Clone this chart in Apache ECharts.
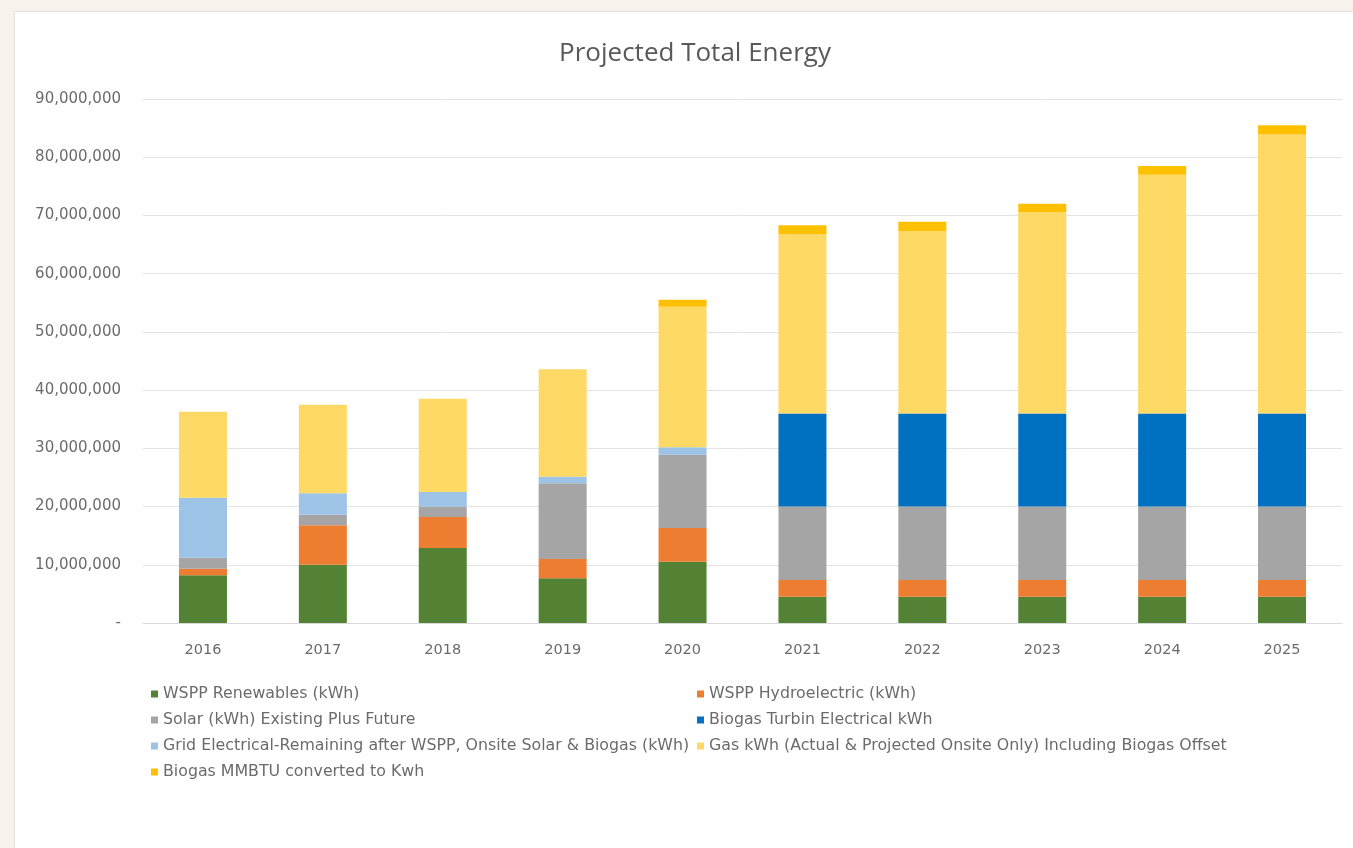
<!DOCTYPE html>
<html>
<head>
<meta charset="utf-8">
<script src="https://cdn.jsdelivr.net/npm/echarts@6/dist/echarts.min.js"></script>
<style>
  html, body { margin: 0; padding: 0; background: #f7f3ec; }
  #card { position: absolute; left: 14px; top: 11px; width: 1345px; height: 850px; background: #ffffff; border: 1px solid #e4e0da; }
  #chart { position: absolute; left: 0; top: 0; width: 1353px; height: 848px; }
</style>
</head>
<body>
<div id="card"></div>
<div id="chart"></div>
<script>
const categories = ['2016', '2017', '2018', '2019', '2020', '2021', '2022', '2023', '2024', '2025'];
const wsppRenewables = [8200000, 10000000, 12900000, 7700000, 10500000, 4500000, 4500000, 4500000, 4500000, 4500000];
const wsppHydro = [1100000, 6800000, 5300000, 3300000, 5800000, 2900000, 2900000, 2900000, 2900000, 2900000];
const solar = [1900000, 1800000, 1800000, 13000000, 12600000, 12600000, 12600000, 12600000, 12600000, 12600000];
const biogasTurbine = [0, 0, 0, 0, 0, 16000000, 16000000, 16000000, 16000000, 16000000];
const gridRemaining = [10300000, 3700000, 2500000, 1100000, 1300000, 0, 0, 0, 0, 0];
const gasKwh = [14800000, 15200000, 16000000, 18500000, 24100000, 30800000, 31300000, 34600000, 41000000, 47900000];
const biogasMmbtu = [0, 0, 0, 0, 1200000, 1500000, 1600000, 1400000, 1500000, 1600000];
const seriesNames = [
  'WSPP Renewables (kWh)',
  'WSPP Hydroelectric (kWh)',
  'Solar (kWh) Existing Plus Future',
  'Biogas Turbin Electrical kWh',
  'Grid Electrical-Remaining after WSPP, Onsite Solar & Biogas (kWh)',
  'Gas kWh (Actual & Projected Onsite Only) Including Biogas Offset',
  'Biogas MMBTU converted to Kwh'
];
const seriesValues = [wsppRenewables, wsppHydro, solar, biogasTurbine, gridRemaining, gasKwh, biogasMmbtu];
const colors = ['#548235', '#ed7d31', '#a5a5a5', '#0070c0', '#9dc3e6', '#ffd966', '#ffc000'];

const font = '"DejaVu Sans", "Open Sans", sans-serif';
const chart = echarts.init(document.getElementById('chart'));
const legendCommon = {
  orient: 'vertical',
  icon: 'rect',
  itemWidth: 7,
  itemHeight: 7,
  itemGap: 10,
  textStyle: { color: '#6b6b6b', fontSize: 15.8, fontFamily: font, lineHeight: 15 },
  selectedMode: false
};
chart.setOption({
  backgroundColor: 'transparent',
  animation: false,
  color: colors,
  title: {
    text: 'Projected Total Energy',
    left: 690,
    textAlign: 'center',
    top: 36,
    textStyle: { color: '#595959', fontSize: 26, fontWeight: 'normal', fontFamily: '"Open Sans", sans-serif' }
  },
  legend: [
    Object.assign({}, legendCommon, {
      left: 146, top: 681,
      data: [seriesNames[0], seriesNames[2], seriesNames[4], seriesNames[6]]
    }),
    Object.assign({}, legendCommon, {
      left: 692, top: 681,
      data: [seriesNames[1], seriesNames[3], seriesNames[5]]
    })
  ],
  grid: { left: 143, right: 11, top: 99, bottom: 225, containLabel: false },
  xAxis: {
    type: 'category',
    data: categories,
    axisLine: { lineStyle: { color: '#d9d9d9' } },
    axisTick: { show: false },
    axisLabel: { color: '#6b6b6b', fontSize: 14.5, fontFamily: font, margin: 20 }
  },
  yAxis: {
    type: 'value',
    min: 0,
    max: 90000000,
    interval: 10000000,
    axisLine: { show: false },
    axisTick: { show: false },
    splitLine: { lineStyle: { color: '#e3e3e3' } },
    axisLabel: {
      color: '#6b6b6b', fontSize: 15, fontFamily: font, margin: 22,
      formatter: v => v === 0 ? '-' : v.toLocaleString('en-US')
    }
  },
  series: seriesNames.map((name, i) => ({
    name: name,
    type: 'bar',
    stack: 'total',
    barWidth: 48,
    data: seriesValues[i],
    itemStyle: { color: colors[i] }
  }))
});
</script>
</body>
</html>
